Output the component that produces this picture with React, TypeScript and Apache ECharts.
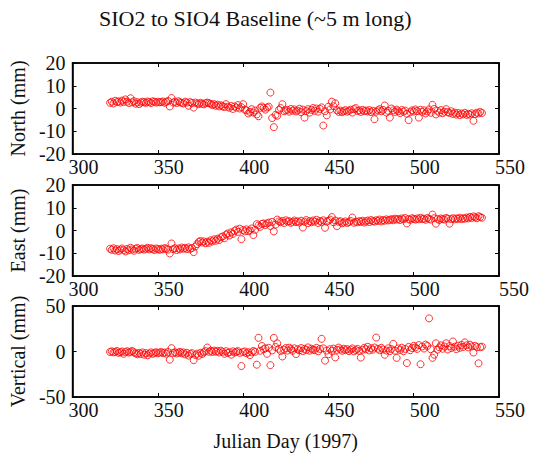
import React, { useEffect, useRef } from "react";
import * as echarts from "echarts";

const titleText = "SIO2 to SIO4 Baseline (~5 m long)";
const xName = "Julian Day (1997)";
const panelNames = ["North (mm)", "East (mm)", "Vertical (mm)"];
const xTicks = [300, 350, 400, 450, 500, 550];
const yRanges = [
  [-20, 20, 10],
  [-20, 20, 10],
  [-50, 50, 50],
];

const days = [
  322, 323, 324, 325, 326, 327, 328, 329, 330, 331,
  332, 333, 334, 335, 336, 337, 338, 339, 340, 341,
  342, 343, 344, 345, 346, 347, 348, 349, 350, 351,
  352, 353, 354, 355, 356, 357, 358, 359, 360, 361,
  362, 363, 364, 365, 366, 367, 368, 369, 370, 371,
  372, 373, 374, 375, 376, 377, 378, 379, 380, 381,
  382, 383, 384, 385, 386, 387, 388, 389, 390, 391,
  392, 393, 394, 395, 396, 397, 398, 399, 400, 401,
  402, 403, 404, 405, 406, 407, 408, 409, 410, 411,
  412, 413, 414, 415, 416, 417, 418, 419, 420, 421,
  422, 423, 424, 425, 426, 427, 428, 429, 430, 431,
  432, 433, 434, 435, 436, 437, 438, 439, 440, 441,
  442, 443, 444, 445, 446, 447, 448, 449, 450, 451,
  452, 453, 454, 455, 456, 457, 458, 459, 460, 461,
  462, 463, 464, 465, 466, 467, 468, 469, 470, 471,
  472, 473, 474, 475, 476, 477, 478, 479, 480, 481,
  482, 483, 484, 485, 486, 487, 488, 489, 490, 491,
  492, 493, 494, 495, 496, 497, 498, 499, 500, 501,
  502, 503, 504, 505, 506, 507, 508, 509, 510, 511,
  512, 513, 514, 515, 516, 517, 518, 519, 520, 521,
  522, 523, 524, 525, 526, 527, 528, 529, 530, 531,
  532, 533, 534, 535, 536, 537, 538, 539, 540,
];

const north = [
  2.5, 3.0, 2.2, 3.4, 2.8, 3.1, 2.6, 3.5, 2.9, 4.0,
  3.0, 2.4, 4.5, 2.7, 3.2, 2.1, 2.8, 1.9, 2.6, 3.0,
  2.7, 2.5, 3.1, 2.8, 2.4, 3.2, 2.9, 2.6, 3.0, 2.7,
  2.8, 3.1, 2.5, 2.9, 3.3, 0.9, 4.6, 2.6, 3.0, 2.4,
  3.2, 2.7, 2.5, 2.2, 3.0, 2.6, 1.2, 2.8, 2.4, 0.4,
  2.6, 2.2, 1.9, 2.5, 2.1, 1.8, 2.4, 2.6, 2.3, 2.0,
  1.5, 1.9, 1.2, 1.7, 0.9, 1.4, 1.0, 0.6, 1.9, 0.8,
  0.3, 1.1, -0.2, 0.9, 0.4, 1.5, 0.0, 0.6, 1.9, -0.5,
  -0.8, -2.2, -1.5, -0.3, -1.8, -0.9, -2.6, -3.4, 0.3, 0.9,
  0.3, -0.5, 0.4, 0.8, 7.0, -4.2, -8.2, -2.8, -3.2, -0.6,
  0.2, 1.9, -1.2, -0.8, -0.6, -1.4, -0.2, -1.0, -0.4, -1.3,
  -0.9, -0.1, -1.6, -0.5, -4.0, -1.1, -0.3, -1.8, -0.6, 0.2,
  -1.0, 0.0, -1.4, -0.2, 0.5, -7.5, -1.2, -3.0, 0.8, -0.4,
  3.0, 1.0, 2.3, -0.8, -1.5, -0.9, -1.6, -1.2, -0.7, -1.4,
  -1.0, -0.5, -1.8, -0.3, 0.2, -1.1, -0.8, -1.5, -0.6, -1.2,
  -0.9, -1.3, -0.7, -1.6, -1.0, -4.7, -1.4, -0.8, -0.3, -1.2,
  -0.6, 1.3, -1.8, -1.0, -4.0, 0.0, -0.8, -1.5, -0.5, -1.2,
  -2.0, -0.7, -1.4, -0.9, -2.3, -5.1, -1.6, -0.8, -1.3, -0.4,
  -1.1, -4.0, -0.6, -1.5, -0.8, -2.2, -1.3, -0.4, -1.9, 1.6,
  -0.2, -2.6, -1.0, -1.8, -0.7, -2.1, -1.4, -0.3, -1.6, -2.0,
  -1.2, -2.4, -1.8, -2.7, -2.0, -2.9, -2.2, -2.6, -1.9, -2.8,
  -2.3, -2.7, -2.1, -5.4, -2.5, -1.8, -2.2, -1.5, -2.0,
];

const east = [
  -8.0, -8.5, -7.8, -8.8, -8.2, -9.0, -8.4, -7.9, -8.6, -9.2,
  -8.1, -8.7, -7.6, -8.3, -8.9, -8.0, -7.7, -8.5, -8.2, -7.9,
  -8.4, -8.0, -7.6, -8.3, -7.8, -8.1, -8.6, -7.9, -8.2, -8.5,
  -8.0, -8.3, -7.7, -8.1, -8.4, -10.1, -5.7, -8.2, -7.8, -8.6,
  -7.9, -8.3, -7.5, -8.0, -7.6, -8.2, -7.4, -8.1, -7.7, -9.5,
  -7.0, -6.0, -5.0, -4.6, -5.3, -4.8, -5.6, -4.9, -5.4, -4.3,
  -4.8, -3.9, -4.5, -3.6, -4.2, -3.0, -2.6, -3.4, -1.8, -1.3,
  -2.2, -0.8, -1.5, -0.2, 0.4, -0.6, 0.8, -3.8, 0.2, -0.4,
  0.5, -0.3, 0.0, 0.9, -2.0, 0.3, 2.8, 2.2, 1.6, 2.9,
  3.1, 2.4, 3.1, 3.5, 2.0, 3.8, -0.4, 2.6, 4.8, 4.0,
  3.6, 4.2, 3.3, 4.5, 3.9, 4.1, 3.4, 3.8, 4.4, 3.7,
  4.0, 3.5, 4.3, 1.3, 3.8, 4.6, 3.2, 4.1, 3.6, 4.4,
  3.9, 4.7, 3.3, 4.2, 3.7, 4.5, 1.2, 3.9, 4.3, 4.8,
  5.9, 3.6, 4.4, 1.9, 3.8, 4.1, 3.2, 3.5, 4.0, 3.3,
  3.7, 4.2, 5.7, 3.4, 3.9, 3.6, 4.1, 3.8, 4.3, 3.5,
  4.0, 4.4, 3.7, 4.6, 4.1, 3.9, 4.5, 4.2, 4.8, 4.0,
  4.6, 4.3, 4.9, 4.4, 4.7, 5.0, 4.5, 5.2, 4.8, 5.1,
  4.6, 5.3, 4.9, 5.5, 3.1, 5.0, 4.7, 5.4, 5.1, 4.8,
  5.3, 4.9, 5.6, 5.0, 5.2, 4.7, 5.5, 5.1, 4.8, 7.0,
  5.4, 3.0, 5.1, 4.6, 5.3, 5.0, 4.8, 5.5, 5.2, 3.0,
  5.0, 5.4, 4.9, 5.3, 5.1, 5.6, 5.0, 5.4, 5.2, 5.7,
  5.3, 6.0, 5.5, 6.2, 5.8, 5.4, 6.3, 5.9, 5.6,
];

const vertical = [
  -0.5, 0.2, -1.0, -0.3, 0.5, -1.5, -0.8, 0.0, -2.5, -0.6,
  0.3, -1.2, -0.4, 0.6, -0.9, -2.0, -3.0, -1.4, -2.8, -1.0,
  -3.5, -1.8, -4.2, -2.2, -1.0, -2.6, -1.5, -0.8, -2.0, -1.2,
  -0.6, -1.9, -1.1, -2.4, -0.5, -9.0, 3.7, -1.6, -0.9, -2.2,
  -1.3, -0.4, -2.0, -1.0, -3.2, -1.5, -4.5, -2.6, -1.8, -9.5,
  -3.8, -2.4, -4.6, -1.5, -2.8, -0.8, 0.5, 4.4, -0.3, 0.8,
  -0.5, 1.0, -0.2, 0.6, -1.1, 0.9, -0.4, -2.5, 0.3, -1.6,
  -0.8, -3.5, 0.2, -1.2, -0.3, 0.4, -1.5, -16.0, -0.6, 0.1,
  -2.0, -0.8, -4.0, -1.0, 0.6, -0.4, -14.5, 15.0, 0.8, 6.0,
  2.5, 3.5, -2.5, 4.0, -15.0, 1.2, 15.0, 5.0, 9.0, 3.0,
  0.5, -5.5, 2.0, 3.8, 1.0, 4.2, 2.6, 0.8, 3.5, -2.8,
  2.4, 1.2, 3.8, 0.5, 2.9, 1.6, 4.5, 0.9, 3.1, 2.0,
  1.5, 4.0, 0.2, 2.8, 13.9, 3.5, -10.0, 1.0, -3.0, 2.5,
  0.6, 3.2, -6.5, 1.8, 4.3, 2.2, 0.8, 3.0, 1.4, 2.6,
  0.4, 2.0, 3.4, 0.1, 1.6, 2.9, 0.7, -6.7, 1.9, 4.0,
  2.4, 5.2, 1.1, 3.6, 2.0, 4.4, 15.3, 3.0, 1.5, 4.1,
  2.2, -3.6, 1.0, 3.5, 0.4, 2.7, 8.4, 0.8, -7.0, 3.3,
  1.6, 4.2, 0.2, 2.9, -12.7, 5.0, 1.4, 3.8, 6.2, 4.5,
  2.8, 7.0, -14.0, 5.5, 3.2, 7.6, 6.0, 36.4, 2.5, -7.0,
  -3.5, 9.0, 2.0, 4.6, 6.8, 3.0, 5.5, 9.0, 2.2, 6.0,
  3.8, 11.0, 5.2, 2.6, 6.4, 4.0, 7.2, 5.0, 10.0, 6.8,
  4.5, 7.5, 5.6, -1.1, 6.2, 4.8, -13.0, 4.7, 5.3,
];

const seriesValues = [north, east, vertical];

const FONT = '"Liberation Serif", "Times New Roman", serif';
const INK = "#111";
const LINE_W = 1.5;

export default function App() {
  const ref = useRef<HTMLDivElement>(null);

  useEffect(() => {
    if (!ref.current) return;
    const chart = echarts.init(ref.current, null, { renderer: "svg" });

    const tops = [63, 185, 306];
    const heights = [91, 91, 91];
    const grids = tops.map((t, i) => ({
      left: 71,
      top: t,
      width: 428,
      height: heights[i],
      show: true,
      borderColor: "#000",
      borderWidth: LINE_W,
      backgroundColor: "#fff",
    }));

    const baseRich = { fontFamily: FONT, fontSize: 20, color: INK };
    const lineStyle = { color: "#000", width: LINE_W };
    const tickStyle = { color: "#000", width: 1 };

    const xAxes: any[] = [];
    const yAxes: any[] = [];
    const series: any[] = [];

    for (let i = 0; i < 3; i++) {
      const [ymin, ymax, yint] = yRanges[i];
      xAxes.push({
        gridIndex: i,
        type: "value",
        min: xTicks[0],
        max: xTicks[xTicks.length - 1],
        interval: 50,
        position: "bottom",
        axisLine: { show: true, onZero: false, lineStyle },
        axisTick: { show: true, inside: true, length: 4, lineStyle: tickStyle },
        axisLabel: {
          show: true,
          fontFamily: FONT,
          fontSize: 20,
          color: INK,
          margin: 3,
          showMinLabel: true,
          showMaxLabel: true,
          formatter: (v: number) =>
            i === 1 && v === 550 ? `{r|${v}}` : `{s|${v}}`,
          rich: {
            s: { ...baseRich, padding: [0, 0, 0, 22] },
            r: { ...baseRich, padding: [0, 0, 6, 30] },
          },
        },
        splitLine: { show: false },
        name: i === 2 ? xName : "",
        nameLocation: "middle",
        nameGap: 34,
        nameTextStyle: { fontFamily: FONT, fontSize: 20, color: INK },
      });
      xAxes.push({
        gridIndex: i,
        type: "value",
        min: xTicks[0],
        max: xTicks[xTicks.length - 1],
        interval: 50,
        position: "top",
        axisLine: { show: true, onZero: false, lineStyle },
        axisTick: { show: true, inside: true, length: 4, lineStyle: tickStyle },
        axisLabel: { show: false },
        splitLine: { show: false },
      });
      yAxes.push({
        gridIndex: i,
        type: "value",
        min: ymin,
        max: ymax,
        interval: yint,
        position: "left",
        axisLine: { show: true, onZero: false, lineStyle },
        axisTick: { show: true, inside: true, length: 4, lineStyle: tickStyle },
        axisLabel: {
          show: true,
          fontFamily: FONT,
          fontSize: 20,
          color: INK,
          margin: 7,
          showMinLabel: true,
          showMaxLabel: true,
        },
        splitLine: { show: false },
        name: panelNames[i],
        nameLocation: "middle",
        nameGap: 40,
        nameTextStyle: { fontFamily: FONT, fontSize: 20, color: INK },
      });
      yAxes.push({
        gridIndex: i,
        type: "value",
        min: ymin,
        max: ymax,
        interval: yint,
        position: "right",
        axisLine: { show: true, onZero: false, lineStyle },
        axisTick: { show: true, inside: true, length: 4, lineStyle: tickStyle },
        axisLabel: { show: false },
        splitLine: { show: false },
      });
      series.push({
        type: "scatter",
        xAxisIndex: i * 2,
        yAxisIndex: i * 2,
        symbol: "circle",
        symbolSize: 7,
        itemStyle: { color: "transparent", borderColor: "#ff0000", borderWidth: 1 },
        data: days.map((d, k) => [d, seriesValues[i][k]]),
      });
    }

    chart.setOption({
      animation: false,
      backgroundColor: "#fff",
      title: {
        text: titleText,
        left: 94,
        top: 2,
        textStyle: { fontFamily: FONT, fontSize: 22, fontWeight: "normal", color: INK },
      },
      grid: grids,
      xAxis: xAxes,
      yAxis: yAxes,
      series,
    });

    return () => chart.dispose();
  }, []);

  return (
    <div
      ref={ref}
      style={{ position: "fixed", left: 0, top: 0, width: 534, height: 454, background: "#fff" }}
    />
  );
}
